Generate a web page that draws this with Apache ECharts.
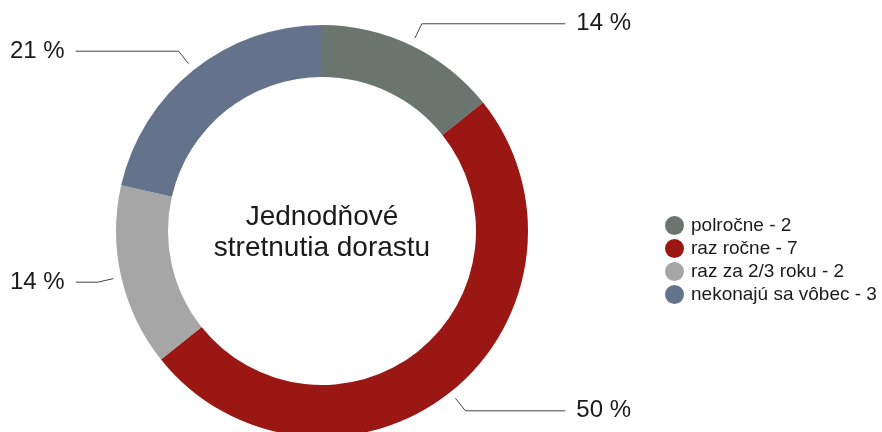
<!DOCTYPE html>
<html>
<head>
<meta charset="utf-8">
<script src="https://cdn.jsdelivr.net/npm/echarts@6/dist/echarts.min.js"></script>
<style>
  html, body { margin: 0; padding: 0; background: #fff; }
  #main { width: 882px; height: 432px; }
</style>
</head>
<body>
<div id="main"></div>
<script>
// údaje z grafu
var categories = ['polročne', 'raz ročne', 'raz za 2/3 roku', 'nekonajú sa vôbec'];
var counts = [2, 7, 2, 3];
var colors = ['#6b756f', '#9a1713', '#a6a6a6', '#64738b'];
var centerTitle = 'Jednodňové\nstretnutia dorastu';

var total = counts.reduce(function (a, b) { return a + b; }, 0);
var font = 'Liberation Sans, Arial, sans-serif';

var myChart = echarts.init(document.getElementById('main'));

var pieData = categories.map(function (name, i) {
    return { name: name, value: counts[i], itemStyle: { color: colors[i] } };
});
// rovnaké hodnoty, len pre popisky (čiary začínajú kúsok od prstenca)
var labelData = categories.map(function (name, i) {
    return { name: name, value: counts[i] };
});

var option = {
    animation: false,
    textStyle: { fontFamily: font },
    graphic: [{
        type: 'text',
        x: 322,
        y: 233,
        style: {
            text: centerTitle,
            align: 'center',
            verticalAlign: 'middle',
            fontSize: 28,
            lineHeight: 31,
            fill: '#1a1a1a',
            fontFamily: font
        }
    }],
    legend: {
        orient: 'vertical',
        left: 660,
        top: 211,
        icon: 'circle',
        itemWidth: 19,
        itemHeight: 19,
        itemGap: 4,
        selectedMode: false,
        data: categories,
        formatter: function (name) {
            return name + ' - ' + counts[categories.indexOf(name)];
        },
        textStyle: {
            fontSize: 19,
            lineHeight: 19,
            color: '#1a1a1a',
            padding: [0, 0, 0, 2]
        }
    },
    series: [{
        type: 'pie',
        name: 'prstenec',
        center: [322, 231],
        radius: [154, 206],
        startAngle: 90,
        clockwise: true,
        silent: true,
        data: pieData,
        label: { show: false },
        labelLine: { show: false }
    }, {
        type: 'pie',
        name: 'popisky',
        left: 0,
        top: 0,
        width: 641,
        height: 432,
        center: [322, 231],
        radius: [0, 214],
        startAngle: 90,
        clockwise: true,
        silent: true,
        avoidLabelOverlap: true,
        data: labelData,
        itemStyle: { color: 'rgba(0,0,0,0)' },
        label: {
            formatter: function (p) {
                return Math.round(p.value / total * 100) + ' %';
            },
            fontSize: 24,
            color: '#1a1a1a',
            alignTo: 'edge',
            edgeDistance: 10,
            distanceToLabelLine: 11,
            padding: [4, 0, 0, 0]
        },
        labelLine: {
            show: true,
            length: 16,
            length2: 20,
            lineStyle: { color: '#444', width: 1 }
        }
    }]
};

myChart.setOption(option);
</script>
</body>
</html>
